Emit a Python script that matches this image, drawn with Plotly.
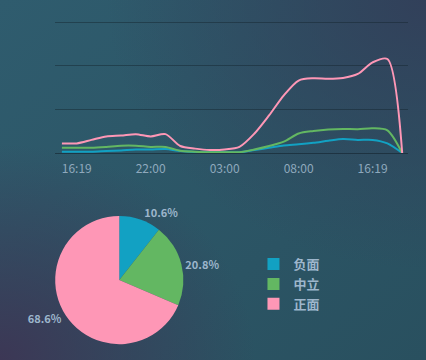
import base64
import plotly.graph_objects as go

# ---------------- data ----------------
times = ["15:19", "16:19", "17:19", "18:19", "19:19", "21:00", "22:00", "23:00",
         "00:00", "01:00", "02:00", "03:00", "04:00", "05:00", "06:00", "07:00",
         "08:00", "10:00", "11:00", "13:00", "15:00", "16:19", "17:19", "18:19"]
tick_idx = [1, 6, 11, 16, 21]

negative = [1.5, 1.5, 1.5, 2.3, 3, 4, 4, 4.5, 2.3, 1.1, 0.8, 0.8, 0.8, 3.4, 6, 8.7,
            10, 11.7, 14, 16, 15, 15, 11, 0]
neutral = [6, 6, 6, 7, 8.3, 8.3, 7, 7, 2.6, 1.5, 0.8, 1, 1, 4, 8, 13,
           22.4, 25.3, 27, 27.6, 27.3, 28.4, 26, 0]
positive = [11, 11, 15, 19, 20, 21.6, 19, 21.6, 8, 5, 3.4, 4, 7, 22, 43, 66,
            83, 85.6, 85, 86, 90.5, 103.8, 107.6, 0]

pie_labels = ["负面", "中立", "正面"]
pie_values = [10.6, 20.8, 68.6]

colors = ["#12a1c3", "#63b762", "#fe97b6"]
text_color = "#9db6cc"
font_family = "Noto Sans CJK SC, Noto Sans, sans-serif"

# ---------------- background gradient (svg) ----------------
svg = """<svg xmlns='http://www.w3.org/2000/svg' width='426' height='360' viewBox='0 0 426 360' preserveAspectRatio='none'>
<defs>
<linearGradient id='g1' x1='0' y1='0' x2='1' y2='1'>
<stop offset='0' stop-color='#2f5c6e'/><stop offset='1' stop-color='#29505f'/>
</linearGradient>
<radialGradient id='g2' cx='1' cy='0' r='0.75'>
<stop offset='0' stop-color='#32405a' stop-opacity='1'/><stop offset='1' stop-color='#32405a' stop-opacity='0'/>
</radialGradient>
<radialGradient id='g3' cx='0' cy='1' r='0.6'>
<stop offset='0' stop-color='#3c3755' stop-opacity='1'/><stop offset='1' stop-color='#3c3755' stop-opacity='0'/>
</radialGradient>
</defs>
<rect width='426' height='360' fill='url(#g1)'/>
<rect width='426' height='360' fill='url(#g2)'/>
<rect width='426' height='360' fill='url(#g3)'/>
</svg>"""
bg_src = "data:image/svg+xml;base64," + base64.b64encode(svg.encode()).decode()

fig = go.Figure()

x = list(range(len(times)))
for name, vals, col in zip(pie_labels, [negative, neutral, positive], colors):
    fig.add_trace(go.Scatter(
        x=x, y=vals, mode="lines", name=name, showlegend=False,
        line=dict(color=col, width=2, shape="spline", smoothing=0.8),
        hoverinfo="skip"))

fig.add_trace(go.Pie(
    labels=pie_labels, values=pie_values, sort=False, direction="clockwise",
    rotation=0, marker=dict(colors=colors, line=dict(width=0)),
    textposition="outside", texttemplate="%{percent:.1%}",
    textfont=dict(color=text_color, size=11, family=font_family, weight="bold"),
    domain=dict(x=[0.02, 0.54], y=[0.044, 0.4]),
    automargin=False,
    showlegend=True, hoverinfo="skip"))

fig.update_layout(
    template="none",
    width=426, height=360,
    margin=dict(l=0, r=0, t=0, b=0, pad=0),
    paper_bgcolor="#2c5366",
    plot_bgcolor="rgba(0,0,0,0)",
    font=dict(family=font_family, color=text_color, size=12),
    images=[dict(source=bg_src, xref="paper", yref="paper", x=0, y=1,
                 sizex=1, sizey=1, sizing="stretch", layer="below",
                 xanchor="left", yanchor="top")],
    xaxis=dict(domain=[0.129, 0.958], range=[-0.47, 23.4], automargin=False,
               tickvals=tick_idx, ticktext=[times[i] for i in tick_idx],
               showgrid=False, zeroline=False, showline=True,
               linecolor="rgba(20,35,45,0.6)", linewidth=1,
               ticks="outside", ticklen=5, tickcolor="rgba(0,0,0,0)",
               tickfont=dict(size=12, color="#8fa9bd")),
    yaxis=dict(domain=[0.575, 0.951], range=[0, 155], dtick=50, automargin=False,
               showticklabels=False, showgrid=True,
               gridcolor="rgba(20,35,45,0.45)", gridwidth=1,
               zeroline=False, showline=False, ticks=""),
    legend=dict(x=0.595, y=0.211, xanchor="left", yanchor="middle",
                font=dict(size=13, color=text_color, family=font_family, weight="bold"),
                bgcolor="rgba(0,0,0,0)"),
)

fig.write_html("out.html", config={"displayModeBar": False},
               post_script="document.body.style.margin='0';document.body.style.padding='0';")
